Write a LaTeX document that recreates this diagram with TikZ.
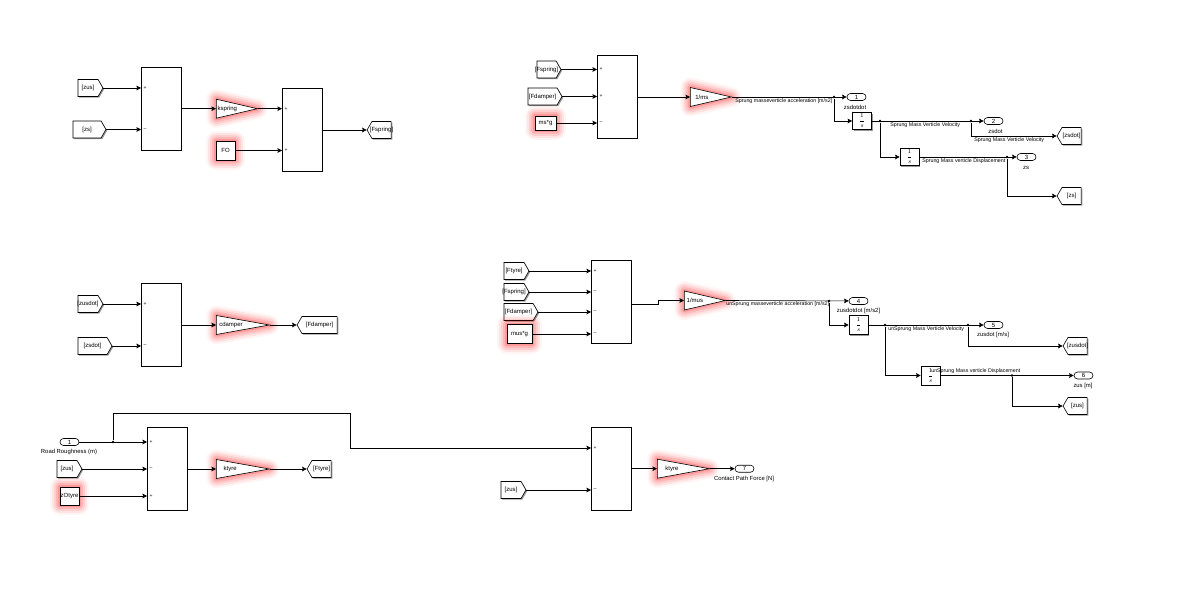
\documentclass[tikz,border=0pt]{standalone}
\usepackage{amsmath}
\usepackage{fontspec}
\setmainfont{Liberation Sans}
\usetikzlibrary{shapes.geometric, shapes.symbols, arrows.meta, positioning, shadows}

\begin{document}
\begin{tikzpicture}[
    x=1pt, y=-1pt,
    line width=0.6pt,
    tinytext/.style={font=\fontsize{6}{7}\selectfont},
    simshadow/.style={general shadow={shadow xshift=1.2pt, shadow yshift=-1.2pt, fill=black!40}},
    redglow/.style={
        preaction={draw=red, opacity=0.04, line width=20pt, line join=round},
        preaction={draw=red, opacity=0.07, line width=16pt, line join=round},
        preaction={draw=red, opacity=0.09, line width=12pt, line join=round},
        preaction={draw=red, opacity=0.12, line width=8pt, line join=round},
        preaction={draw=red, opacity=0.16, line width=4pt, line join=round}},
    sumblock/.style={rectangle, draw, fill=white, simshadow, minimum width=40pt, minimum height=83pt, inner sep=0pt},
    signmark/.style={font=\fontsize{5}{6}\selectfont, anchor=west, inner sep=2.2pt},
    fromtag/.style={signal, signal to=east, signal pointer angle=120, draw, fill=white, simshadow, minimum height=17pt, inner sep=0pt, xshift=-2.5pt, label={[tinytext, inner sep=0pt]center:{#1}}},
    gototag/.style={signal, signal to=west, signal pointer angle=120, draw, fill=white, simshadow, minimum height=17pt, inner sep=0pt, xshift=2.5pt, label={[tinytext, inner sep=0pt]center:{#1}}},
    gainblock/.style 2 args={isosceles triangle, isosceles triangle stretches, shape border rotate=0, anchor=lower side, draw, fill=white, redglow, minimum width=19pt, inner sep=0pt, label={[tinytext, inner sep=0pt, xshift=#2]center:{#1}}},
    constblock/.style={rectangle, draw, fill=white, redglow, tinytext, inner sep=0pt},
    intblock/.style={rectangle, draw, fill=white, simshadow, tinytext, minimum width=19pt, minimum height=17pt, inner sep=0pt},
    outport/.style={rectangle, rounded corners=3.5pt, draw, fill=white, tinytext, minimum width=19pt, minimum height=7pt, inner sep=0pt},
    junction/.style={circle, fill=black, minimum size=2.6pt, inner sep=0pt},
    sigtext/.style={font=\fontsize{5.3}{6}\selectfont, inner sep=0pt},
    porttext/.style={font=\fontsize{5.9}{7}\selectfont, inner sep=0pt},
    arrow/.style={-{Stealth[length=4.5pt, width=4.5pt, inset=0.6pt]}}
]
\useasboundingbox (0,0) rectangle (1189,596);

\node[sumblock] (sumA) at (161,108.5) {};
\node[sumblock] (sumB) at (302,129.5) {};
\node[signmark] (signA1) at (141,88) {+};
\node[signmark] (signA2) at (141,129.5) {–};
\node[signmark] (signB1) at (282,108.7) {+};
\node[signmark] (signB2) at (282,150.5) {+};
\node[fromtag={[zus]}, minimum width=25pt] (fromzusA) at (90.5,88) {};
\node[fromtag={[zs]}, minimum width=33pt] (fromzsA) at (89.5,129.5) {};
\node[gainblock={kspring}{3.5pt}, minimum height=41pt] (gainspring) at (216,108.7) {};
\node[constblock, minimum width=19pt, minimum height=19pt] (constfo) at (225.5,150.5) {FO};
\node[gototag={[Fspring]}, minimum width=24pt] (gotofspring) at (379,130) {};

\draw[arrow] (fromzusA.east) -- (signA1.west);
\draw[arrow] (fromzsA.east) -- (signA2.west);
\draw[arrow] (sumA.east |- gainspring.lower side) -- (gainspring.lower side);
\draw[arrow] (gainspring.apex) -- (signB1.west);
\draw[arrow] (constfo) -- (signB2.west);
\draw[arrow] (sumB.east |- gotofspring.east) -- (gotofspring.west);

\node[sumblock] (sumC) at (617,96.5) {};
\node[signmark] (signC1) at (597,69.5) {+};
\node[signmark] (signC2) at (597,96.5) {+};
\node[signmark] (signC3) at (597,123) {–};
\node[fromtag={[Fspring]}, minimum width=24pt] (fromfspringC) at (549,69.5) {};
\node[fromtag={[Fdamper]}, minimum width=34pt] (fromfdamperC) at (545,96.5) {};
\node[constblock, minimum width=21pt, minimum height=14pt] (constmsg) at (545.5,123) {ms*g};
\node[gainblock={1/ms}{4pt}, minimum height=41pt] (gainms) at (690,97) {};
\node[junction] (jacc) at (834,97) {};
\node[outport] (outA) at (856.5,97) {1};
\node[sigtext, anchor=west] (txtacc) at (735,101) {Sprung masseverticle acceleration [m/s2]};
\node[porttext] (txtzsdd) at (855,107) {zsdotdot};
\node[intblock] (intA) at (862,121) {$\displaystyle\frac{1}{s}$};
\node[junction] (jvel) at (880,121) {};
\node[junction] (jvelb) at (971,121) {};
\node[outport] (outB) at (993.5,121) {2};
\node[sigtext, anchor=west] (txtvel) at (890,125) {Sprung Mass Verticle Velocity};
\node[porttext] (txtzsd) at (995.5,131) {zsdot};
\node[sigtext, anchor=west] (txtvelb) at (974,140) {Sprung Mass Verticle Velocity};
\node[gototag={[zsdot]}, minimum width=24pt] (gotozsdot) at (1069,136) {};
\node[intblock] (intB) at (909.5,157) {$\displaystyle\frac{1}{s}$};
\node[junction] (jdisp) at (1007,157) {};
\node[outport] (outC) at (1026.5,157) {3};
\node[sigtext, anchor=west] (txtdisp) at (922,161) {Sprung Mass verticle Displacement};
\node[porttext] (txtzs) at (1026,168) {zs};
\node[gototag={[zs]}, minimum width=24pt] (gotozs) at (1069,196) {};

\draw[arrow] (fromfspringC.east) -- (signC1.west);
\draw[arrow] (fromfdamperC.east) -- (signC2.west);
\draw[arrow] (constmsg) -- (signC3.west);
\draw[arrow] (sumC.east |- gainms.lower side) -- (gainms.lower side);
\draw[arrow] (gainms.apex) -- (outA);
\draw[arrow] (jacc) |- (intA);
\draw[arrow] (intA) -- (outB);
\draw[arrow] (jvel) |- (intB);
\draw[arrow] (jvelb) |- (gotozsdot.west);
\draw[arrow] (intB) -- (outC);
\draw[arrow] (jdisp) |- (gotozs.west);

\node[sumblock] (sumD) at (161,324.5) {};
\node[signmark] (signD1) at (141,304) {+};
\node[signmark] (signD2) at (141,346) {–};
\node[fromtag={[zusdot]}, minimum width=25pt] (fromzusdot) at (90.5,304) {};
\node[fromtag={[zsdot]}, minimum width=34pt] (fromzsdot) at (95,346) {};
\node[gainblock={cdamper}{6.7pt}, minimum height=53pt] (gaindamper) at (216,325) {};
\node[gototag={[Fdamper]}, minimum width=40pt] (gotofdamper) at (317,325) {};

\draw[arrow] (fromzusdot.east) -- (signD1.west);
\draw[arrow] (fromzsdot.east) -- (signD2.west);
\draw[arrow] (sumD.east |- gaindamper.lower side) -- (gaindamper.lower side);
\draw[arrow] (gaindamper.apex) -- (gotofdamper.west);

\node[sumblock] (sumE) at (611,301.5) {};
\node[signmark] (signE1) at (591,271) {+};
\node[signmark] (signE2) at (591,292) {–};
\node[signmark] (signE3) at (591,312) {–};
\node[signmark] (signE4) at (591,334) {–};
\node[fromtag={[Ftyre]}, minimum width=25pt] (fromftyre) at (516.5,271) {};
\node[fromtag={[Fspring]}, minimum width=25pt] (fromfspringE) at (516.5,292) {};
\node[fromtag={[Fdamper]}, minimum width=34pt] (fromfdamperE) at (521,312) {};
\node[constblock, minimum width=25pt, minimum height=19pt] (constmusg) at (519.5,334) {mus*g};
\coordinate (bendE) at (658,304);
\node[gainblock={1/mus}{3pt}, minimum height=41pt] (gainmus) at (684,300.5) {};
\node[junction] (jaccu) at (829,301) {};
\node[outport] (outD) at (858.5,301) {4};
\node[sigtext, anchor=west] (txtaccu) at (726,304.5) {unSprung masseverticle acceleration [m/s2]};
\node[porttext] (txtzusdd) at (858.5,311) {zusdotdot [m/s2]};
\node[intblock, minimum height=19pt] (intC) at (858.5,325) {$\displaystyle\frac{1}{s}$};
\node[junction] (jvelu) at (885,325) {};
\node[junction] (jvelub) at (968,325) {};
\node[outport] (outE) at (993.5,325) {5};
\node[sigtext, anchor=west] (txtvelu) at (888,329) {unSprung Mass Verticle Velocity};
\node[porttext] (txtzusd) at (993,335) {zusdot [m/s]};
\node[gototag={[zusdot]}, minimum width=24pt] (gotozusdot) at (1075,346) {};
\node[intblock, minimum height=19pt] (intD) at (930.5,375.5) {$\displaystyle\frac{1}{s}$};
\node[junction] (jdispu) at (1012,375.5) {};
\node[outport] (outF) at (1083.5,375.5) {6};
\node[sigtext, anchor=west] (txtdispu) at (931,371) {unSprung Mass verticle Displacement};
\node[porttext] (txtzus) at (1083,386) {zus [m]};
\node[gototag={[zus]}, minimum width=24pt] (gotozus) at (1075,406) {};

\draw[arrow] (fromftyre.east) -- (signE1.west);
\draw[arrow] (fromfspringE.east) -- (signE2.west);
\draw[arrow] (fromfdamperE.east) -- (signE3.west);
\draw[arrow] (constmusg) -- (signE4.west);
\draw[arrow] (sumE.east |- bendE) -- (bendE) |- (gainmus.lower side);
\draw[arrow] (gainmus.apex) -- (outD);
\draw[arrow] (jaccu) |- (intC);
\draw[arrow] (intC) -- (outE);
\draw[arrow] (jvelu) |- (intD);
\draw[arrow] (jvelub) |- (gotozusdot.west);
\draw[arrow] (intD) -- (outF);
\draw[arrow] (jdispu) |- (gotozus.west);

\node[sumblock] (sumF) at (167,468.5) {};
\node[signmark] (signF1) at (147,442) {+};
\node[signmark] (signF2) at (147,469) {–};
\node[signmark] (signF3) at (147,496) {+};
\node[outport] (inroad) at (69.5,442) {1};
\node[porttext] (txtroad) at (69,452) {Road Roughness (m)};
\node[junction] (jroad) at (113,442) {};
\node[fromtag={[zus]}, minimum width=25pt] (fromzusF) at (69.5,469) {};
\node[constblock, minimum width=19pt, minimum height=18pt] (constzo) at (69.5,496) {zOtyre};
\node[gainblock={ktyre}{6pt}, minimum height=53pt] (gaintyreA) at (216,469) {};
\node[gototag={[Ftyre]}, minimum width=24pt] (gotoftyre) at (319,469) {};
\coordinate (routeup) at (350,413);

\node[sumblock] (sumG) at (611,468.5) {};
\node[signmark] (signG1) at (591,448) {+};
\node[signmark] (signG2) at (591,490) {–};
\node[fromtag={[zus]}, minimum width=25pt] (fromzusG) at (513.5,490) {};
\node[gainblock={ktyre}{6.7pt}, minimum height=52pt] (gaintyreB) at (657,468.7) {};
\node[outport] (outG) at (744.5,468.7) {7};
\node[porttext] (txtforce) at (744,479) {Contact Path Force [N]};

\draw[arrow] (inroad) -- (signF1.west);
\draw[arrow] (fromzusF.east) -- (signF2.west);
\draw[arrow] (constzo) -- (signF3.west);
\draw[arrow] (sumF.east |- gaintyreA.lower side) -- (gaintyreA.lower side);
\draw[arrow] (gaintyreA.apex) -- (gotoftyre.west);
\draw[arrow] (jroad) |- (routeup) |- (signG1.west);
\draw[arrow] (fromzusG.east) -- (signG2.west);
\draw[arrow] (sumG.east |- gaintyreB.lower side) -- (gaintyreB.lower side);
\draw[arrow] (gaintyreB.apex) -- (outG);
\end{tikzpicture}
\end{document}
